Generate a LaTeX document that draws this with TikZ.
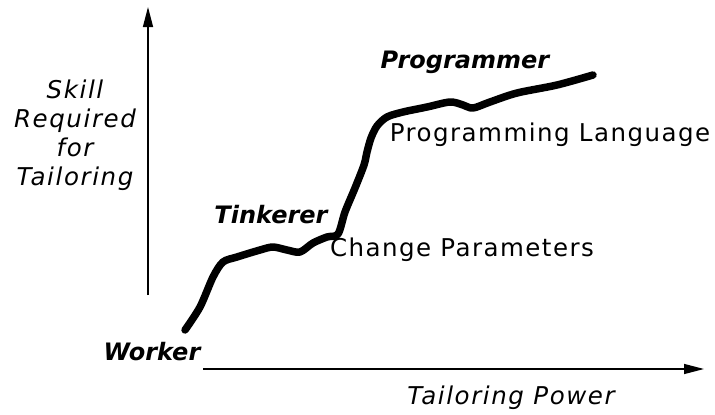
\documentclass[tikz,border=0pt]{standalone}
\usepackage{fontspec}
\setmainfont{DejaVu Sans}
\usetikzlibrary{arrows.meta}
\begin{document}
\begin{tikzpicture}[x=1pt,y=-1pt,
  axis/.style={line width=1.4pt,-{Triangle[length=20pt,width=10pt]}},
  curve/.style={line width=7.5pt,line cap=round,line join=round},
  lab/.style={inner sep=0pt,font=\fontsize{24.5}{29}\selectfont\addfontfeatures{LetterSpace=6}},
  ital/.style={inner sep=0pt,font=\fontsize{24.5}{29}\selectfont\itshape\addfontfeatures{LetterSpace=6.5}},
  bital/.style={inner sep=0pt,font=\fontsize{24}{29}\selectfont\bfseries\itshape}]
\useasboundingbox (0,0) rectangle (715,415);
\coordinate (yb) at (148,295);
\coordinate (yt) at (148,7);
\coordinate (xl) at (203,369);
\coordinate (xr) at (704,369);
\draw[axis] (yb) -- (yt);
\draw[axis] (xl) -- (xr);
\draw[curve] plot[smooth,tension=0.5] coordinates {
 (185,330) (200,307) (213,277) (223,262) (237,257) (260,250) (273,247)
 (287,250) (300,252) (313,243) (327,237) (338,234) (345,212) (355,188)
 (364,165) (367,152) (371,138) (377,126) (387,117) (403,112) (427,107) (450,102)
 (463,105) (473,108) (490,102) (517,93) (557,85) (593,75)};
\node[ital,align=center] (skill) at (75,135) {Skill\\Required\\for\\Tailoring};
\node[bital] (tink) at (271,215) {Tinkerer};
\node[bital] (work) at (152,352) {Worker};
\node[bital] (prog) at (465,62) {Programmer};
\node[lab] (pl) at (550,135) {Programming Language};
\node[lab] (cp) at (462,250) {Change Parameters};
\node[ital] (tp) at (511,398) {Tailoring Power};
\end{tikzpicture}
\end{document}
